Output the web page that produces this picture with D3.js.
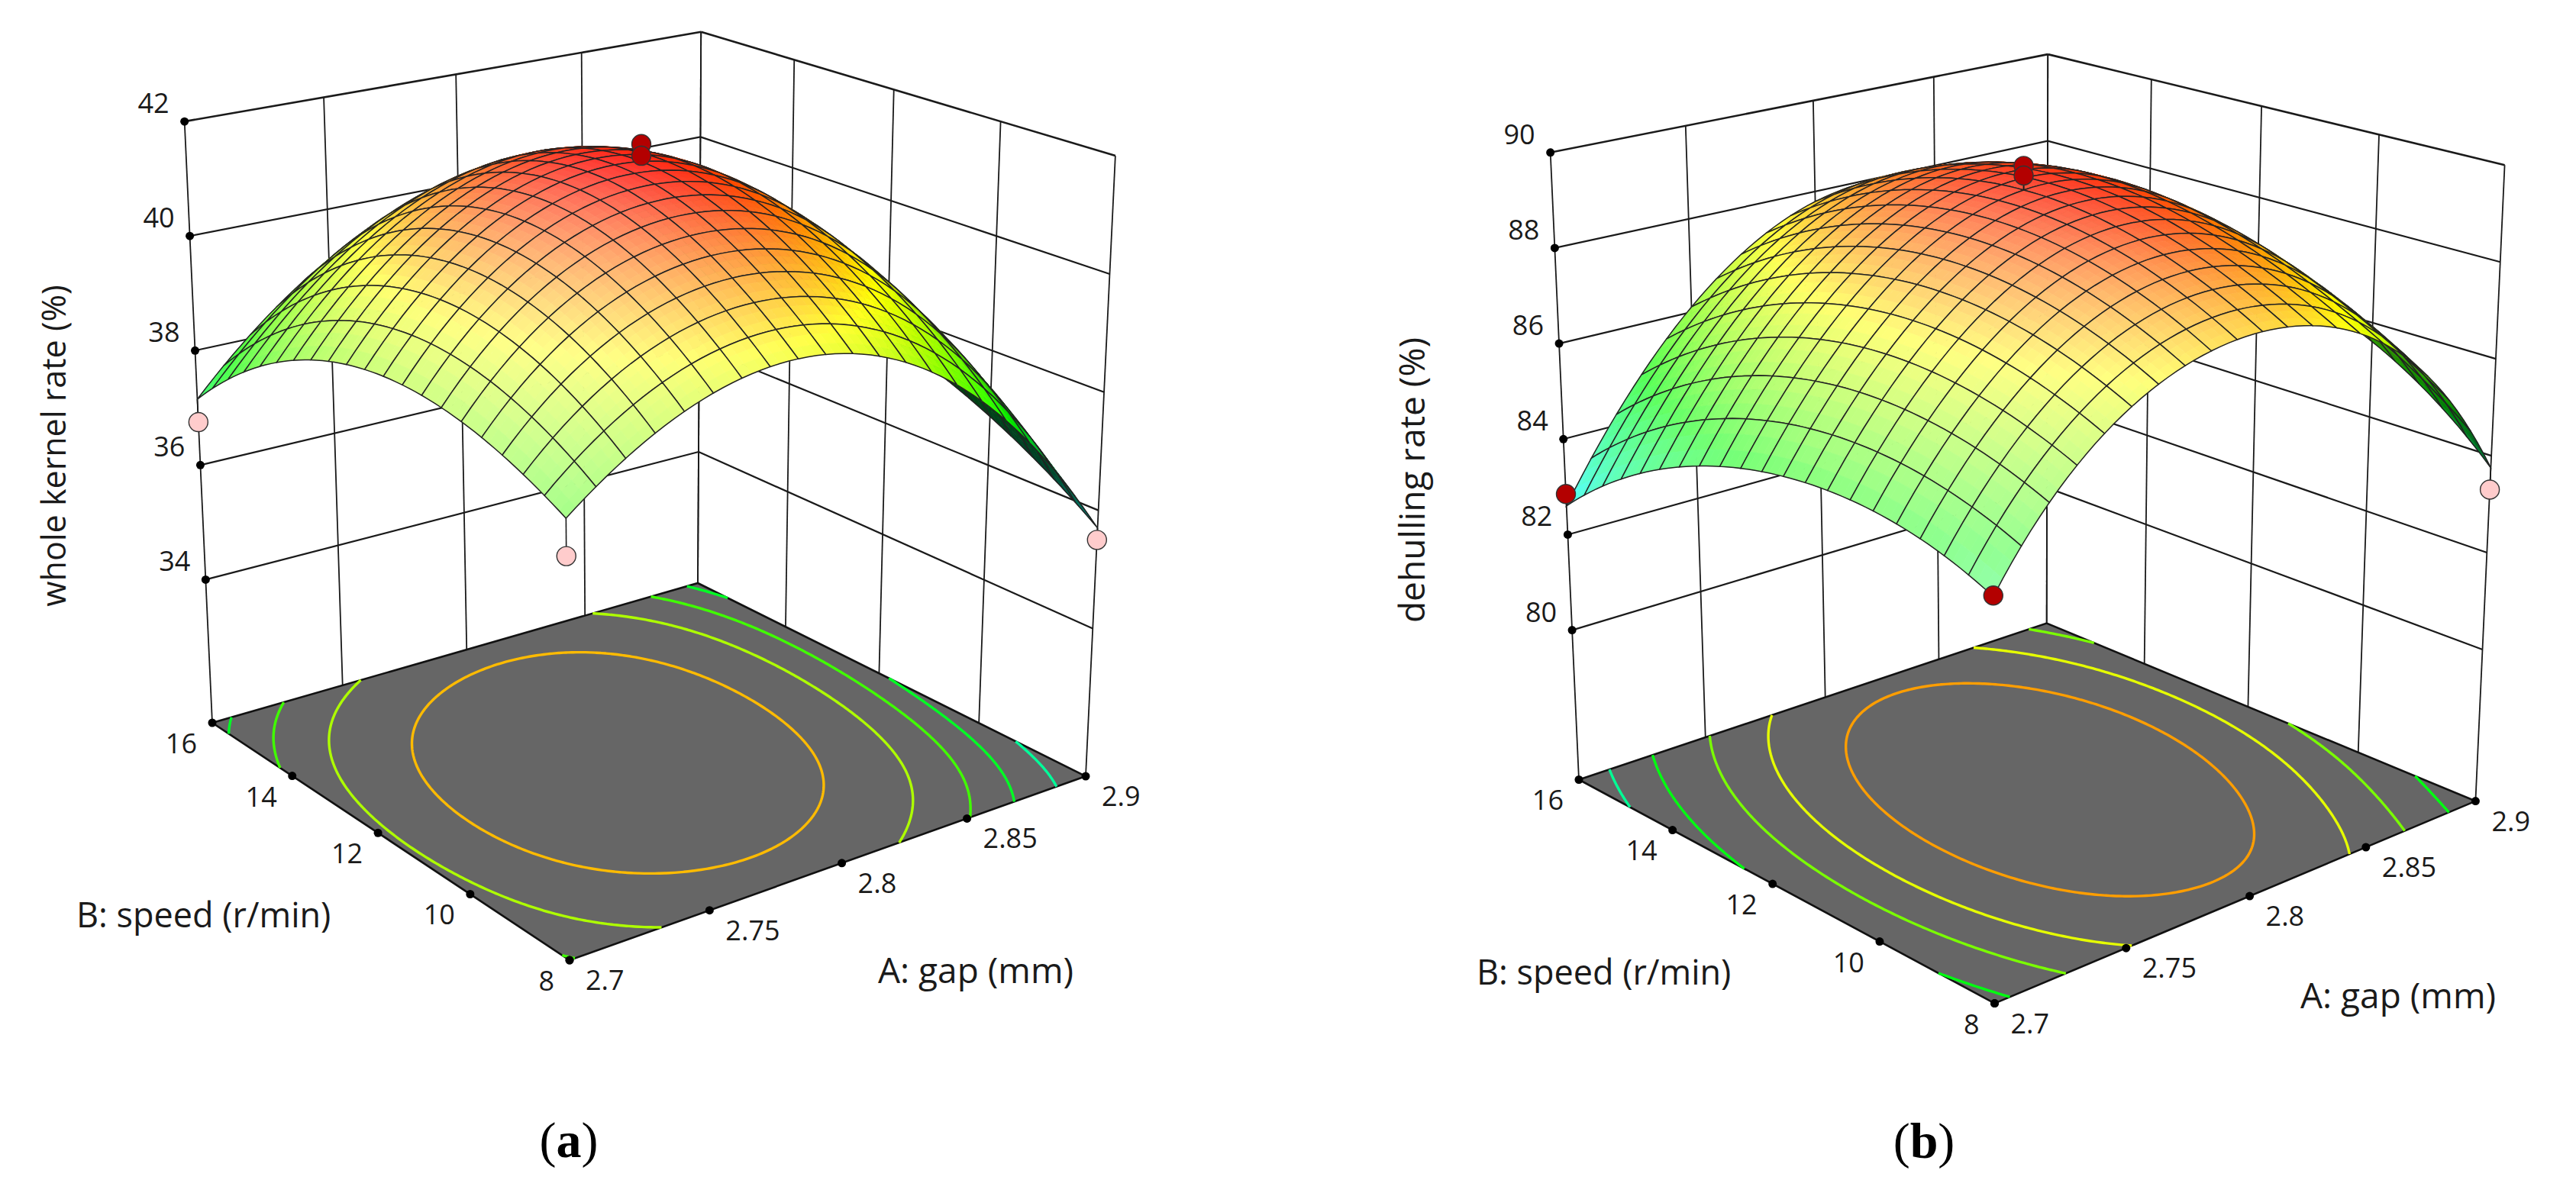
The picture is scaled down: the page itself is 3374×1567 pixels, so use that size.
<!DOCTYPE html>
<html lang="en">

<head>
  <script src="https://cdn.jsdelivr.net/npm/d3@7"></script>
  <style>
    body {
      margin: 0;
      background: #fff;
      overflow: hidden;
    }

    text {
      font-family: "Open Sans", sans-serif;
      fill: #1a1a1a;
    }

    .caption {
      font-family: "Liberation Serif", serif;
      font-size: 66px;
      text-anchor: middle;
      fill: #000;
    }
  </style>
</head>

<body>
  <svg id="chart"></svg>

  <script>
    var aTicks = [2.7, 2.75, 2.8, 2.85, 2.9];
    var bTicks = [8, 10, 12, 14, 16];
    var zTicksLeft = [34, 36, 38, 40, 42];
    var zTicksRight = [80, 82, 84, 86, 88, 90];

    // response at the tick crossings, rows = bTicks, columns = aTicks
    var kernelRate = [
      [38.28, 39.64, 39.72, 38.40, 35.70],
      [39.00, 40.85, 41.09, 39.90, 36.85],
      [39.10, 41.17, 41.60, 40.50, 37.55],
      [38.50, 40.59, 41.21, 40.35, 37.75],
      [37.15, 39.11, 39.92, 39.39, 37.20]
    ];
    var dehullingRate = [
      [84.40, 87.18, 87.92, 87.00, 83.75],
      [85.10, 88.04, 89.01, 88.20, 85.60],
      [85.00, 88.14, 89.35, 88.77, 86.40],
      [84.20, 87.50, 88.94, 88.59, 86.45],
      [82.60, 86.11, 87.78, 87.66, 85.75]
    ];

    var kernelLevels = [40.45, 39.3, 38.35, 37.5, 36.5];
    var dehullingLevels = [88.3, 87.25, 86.2, 84.85, 83.6];

    // colour ramp stops: blue, cyan, green, yellow, red
    var rampColors = ['#0000ff', '#00ffff', '#00ff00', '#ffff00', '#ff0000'];
    var kernelRamp = [33.5, 35.65, 37.8, 40, 41.7];
    var dehullingRamp = [80.2, 82.6, 85, 87.5, 89.6];

    // design points: A, B, response
    var kernelDesign = [[2.8, 12, 41.9], [2.8, 12, 41.7], [2.8, 12, 41.5], [2.7, 16, 36.75], [2.7, 8, 37.7], [2.9, 8, 35.5]];
    var dehullingDesign = [[2.8, 12, 89.85], [2.8, 12, 89.65], [2.7, 16, 82.85], [2.7, 8, 84.42], [2.9, 8, 83.3]];

    var width = 3374, height = 1567;
    var svg = d3.select('#chart').attr('width', width).attr('height', height);

    var nodes = [0, 0.25, 0.5, 0.75, 1];
    var meshCells = 20, subCells = 3;

    function makeCamera(front, right, back, left, topLeft, topBack, topRight) {
      var x0 = front[0], y0 = front[1], x1 = right[0], y1 = right[1];
      var x2 = back[0], y2 = back[1], x3 = left[0], y3 = left[1];
      var dx1 = x1 - x2, dx2 = x3 - x2, sx = x0 - x1 + x2 - x3;
      var dy1 = y1 - y2, dy2 = y3 - y2, sy = y0 - y1 + y2 - y3;
      var det = dx1 * dy2 - dx2 * dy1;
      var g = (sx * dy2 - dx2 * sy) / det, h = (dx1 * sy - sx * dy1) / det;
      var a = x1 - x0 + g * x1, b = x3 - x0 + h * x3, c = x0;
      var d = y1 - y0 + g * y1, e = y3 - y0 + h * y3, f = y0;

      var tops = [[0, 1, topLeft], [1, 1, topBack], [1, 0, topRight]].map(function (r) {
        var w = g * r[0] + h * r[1] + 1;
        return {
          px: r[2][0], py: r[2][1],
          rx: r[2][0] * w - (a * r[0] + b * r[1] + c),
          ry: r[2][1] * w - (d * r[0] + e * r[1] + f)
        };
      });
      var mpx = d3.mean(tops, function (t) { return t.px; });
      var mrx = d3.mean(tops, function (t) { return t.rx; });
      var mpy = d3.mean(tops, function (t) { return t.py; });
      var mry = d3.mean(tops, function (t) { return t.ry; });
      var k = -d3.sum(tops, function (t) { return (t.px - mpx) * (t.rx - mrx); }) /
        d3.sum(tops, function (t) { return (t.px - mpx) * (t.px - mpx); });
      var i = mrx + k * mpx, j = mry + k * mpy;

      // ticks are evenly spaced on the picture, so height runs linear between floor and top
      return function (u, v, t) {
        var w0 = g * u + h * v + 1, w1 = w0 + k;
        var fx = (a * u + b * v + c) / w0, fy = (d * u + e * v + f) / w0;
        var tx = (a * u + b * v + c + i) / w1, ty = (d * u + e * v + f + j) / w1;
        return [fx + (tx - fx) * t, fy + (ty - fy) * t];
      };
    }

    function weights(x) {
      return nodes.map(function (n, k) {
        var w = 1;
        nodes.forEach(function (m, l) { if (l !== k) w *= (x - m) / (n - m); });
        return w;
      });
    }

    // smooth drawing surface through the read table
    function surfaceAt(table, u, v) {
      var wu = weights(u), wv = weights(v), z = 0;
      table.forEach(function (row, r) {
        row.forEach(function (val, c) { z += val * wu[c] * wv[r]; });
      });
      return z;
    }

    function contourLines(table, level) {
      var n = 161;
      var values = [];
      for (var r = 0; r < n; r++) {
        for (var c = 0; c < n; c++) values.push(surfaceAt(table, c / (n - 1), r / (n - 1)));
      }
      var shape = d3.contours().size([n, n]).contour(values, level);
      var lines = [];
      var onEdge = function (p) { return p[0] <= 0 || p[1] <= 0 || p[0] >= n || p[1] >= n; };
      var toUnit = function (p) {
        return [Math.max(0, Math.min(1, (p[0] - 0.5) / (n - 1))), Math.max(0, Math.min(1, (p[1] - 0.5) / (n - 1)))];
      };
      shape.coordinates.forEach(function (poly) {
        poly.forEach(function (ring) {
          var start = ring.findIndex(onEdge);
          if (start < 0) { lines.push(ring.map(toUnit)); return; }
          var cur = [];
          for (var s = 0; s <= ring.length; s++) {
            var p = ring[(start + s) % ring.length];
            if (onEdge(p)) {
              if (cur.length > 1) lines.push(cur);
              cur = [];
            } else {
              cur.push(toUnit(p));
            }
          }
        });
      });
      return lines;
    }

    function drawPanel(opt) {
      var g = svg.append('g');
      var cam = makeCamera(opt.front, opt.right, opt.back, opt.left, opt.topLeft, opt.topBack, opt.topRight);
      var uScale = d3.scaleLinear().domain([aTicks[0], aTicks[4]]).range([0, 1]);
      var vScale = d3.scaleLinear().domain([bTicks[0], bTicks[4]]).range([0, 1]);
      var tScale = d3.scaleLinear().domain([opt.zFloor, opt.zTop]).range([0, 1]);
      var color = d3.scaleLinear().domain(opt.ramp).range(rampColors).clamp(true);
      var line = d3.line();
      var zTop = opt.zTop, zFloor = opt.zFloor;

      function seg(a, b, w) {
        g.append('path').attr('d', line([a, b])).attr('fill', 'none')
          .attr('stroke', '#1a1a1a').attr('stroke-width', w);
      }

      // walls
      aTicks.forEach(function (a) {
        seg(cam(uScale(a), 1, 0), cam(uScale(a), 1, 1), 1.8);
      });
      bTicks.forEach(function (b) {
        seg(cam(1, vScale(b), 0), cam(1, vScale(b), 1), 1.8);
      });
      opt.zTicks.forEach(function (z) {
        var w = z === zTop ? 2.6 : 2.2;
        seg(cam(0, 1, tScale(z)), cam(1, 1, tScale(z)), w);
        seg(cam(1, 1, tScale(z)), cam(1, 0, tScale(z)), w);
      });

      // floor
      g.append('path')
        .attr('d', line([cam(0, 0, 0), cam(1, 0, 0), cam(1, 1, 0), cam(0, 1, 0)]) + 'Z')
        .attr('fill', '#666666').attr('stroke', '#111').attr('stroke-width', 2.6);

      opt.levels.forEach(function (level) {
        contourLines(opt.table, level).forEach(function (l) {
          g.append('path')
            .attr('d', line(l.map(function (p) { return cam(p[0], p[1], 0); })))
            .attr('fill', 'none').attr('stroke', color(level)).attr('stroke-width', 3.4);
        });
      });

      // tick dots and labels
      var dots = [];
      aTicks.forEach(function (a) { dots.push(cam(uScale(a), 0, 0)); });
      bTicks.forEach(function (b) { dots.push(cam(0, vScale(b), 0)); });
      opt.zTicks.forEach(function (z) { dots.push(cam(0, 1, tScale(z))); });
      g.selectAll('circle.tick').data(dots).enter().append('circle')
        .attr('class', 'tick')
        .attr('cx', function (d) { return d[0]; }).attr('cy', function (d) { return d[1]; })
        .attr('r', 5.5).attr('fill', '#000');

      opt.zTicks.forEach(function (z) {
        var p = cam(0, 1, tScale(z));
        g.append('text').text(z).attr('x', p[0] - 20).attr('y', p[1] - 24)
          .attr('dy', '.36em').attr('text-anchor', 'end').attr('font-size', 36);
      });
      aTicks.forEach(function (a) {
        var p = cam(uScale(a), 0, 0);
        g.append('text').text(a).attr('x', p[0] + 21).attr('y', p[1] + 26)
          .attr('dy', '.36em').attr('text-anchor', 'start').attr('font-size', 36);
      });
      bTicks.forEach(function (b) {
        var p = cam(0, vScale(b), 0);
        g.append('text').text(b).attr('x', p[0] - 20).attr('y', p[1] + 27)
          .attr('dy', '.36em').attr('text-anchor', 'end').attr('font-size', 36);
      });

      g.append('text').text('B: speed (r/min)').attr('x', opt.bTitle[0]).attr('y', opt.bTitle[1])
        .attr('dy', '.36em').attr('font-size', 45);
      g.append('text').text('A: gap (mm)').attr('x', opt.aTitle[0]).attr('y', opt.aTitle[1])
        .attr('dy', '.36em').attr('font-size', 46);
      g.append('text').text(opt.zTitle)
        .attr('transform', 'translate(' + opt.zTitlePos[0] + ',' + opt.zTitlePos[1] + ') rotate(-90)')
        .attr('text-anchor', 'middle').attr('dy', '.36em').attr('font-size', opt.zTitleSize);

      // design points under the surface
      var surfZ = function (d) { return surfaceAt(opt.table, uScale(d[0]), vScale(d[1])); };
      var isAbove = function (d) { return d[2] >= surfZ(d); };
      function drawPoints(list, fill) {
        list.forEach(function (d) {
          var pt = cam(uScale(d[0]), vScale(d[1]), tScale(d[2]));
          var sf = cam(uScale(d[0]), vScale(d[1]), tScale(surfZ(d)));
          seg(pt, sf, 1.6);
          g.append('circle').attr('cx', pt[0]).attr('cy', pt[1]).attr('r', 12.5)
            .attr('fill', fill).attr('stroke', '#333').attr('stroke-width', 1.4);
        });
      }
      drawPoints(opt.design.filter(function (d) { return !isAbove(d); }), '#ffcccc');

      // surface, painted back to front from the far corner
      var h = 1 / meshCells, sh = h / subCells;
      var pos = function (u, v) { return cam(u, v, tScale(surfaceAt(opt.table, u, v))); };
      var boxH = (zTop - zFloor) / 2;
      var light = [-0.75, -0.45, 0.5];

      function shade(u, v) {
        var e = 0.01;
        var z = surfaceAt(opt.table, u, v);
        var dzU = (surfaceAt(opt.table, Math.min(1, u + e), v) - surfaceAt(opt.table, Math.max(0, u - e), v)) / (2 * e);
        var dzV = (surfaceAt(opt.table, u, Math.min(1, v + e)) - surfaceAt(opt.table, u, Math.max(0, v - e))) / (2 * e);
        var nx = -dzU / 2 / boxH, ny = -dzV / 2 / boxH, nz = 1;
        var len = Math.sqrt(nx * nx + ny * ny + nz * nz);
        var dot = (nx * light[0] + ny * light[1] + nz * light[2]) / len;
        var base = color(z);
        var pale = Math.max(0, Math.min(1, (dot - 0.25) / 0.75)) * 0.6;
        var dark = Math.max(0, Math.min(1, (0.12 - dot) / 0.3)) * 0.75;
        var c = d3.interpolateRgb(base, '#ffffff')(pale);
        return d3.interpolateRgb(c, '#000000')(dark);
      }

      for (var i = meshCells - 1; i >= 0; i--) {
        for (var j = meshCells - 1; j >= 0; j--) {
          var cell = g.append('g');
          for (var si = subCells - 1; si >= 0; si--) {
            for (var sj = subCells - 1; sj >= 0; sj--) {
              var u0 = i * h + si * sh, v0 = j * h + sj * sh;
              var fill = shade(u0 + sh / 2, v0 + sh / 2);
              cell.append('path')
                .attr('d', line([pos(u0, v0), pos(u0 + sh, v0), pos(u0 + sh, v0 + sh), pos(u0, v0 + sh)]) + 'Z')
                .attr('fill', fill).attr('stroke', fill).attr('stroke-width', 0.8);
            }
          }
          var ring = [];
          var s;
          for (s = 0; s < subCells; s++) ring.push(pos(i * h + s * sh, j * h));
          for (s = 0; s < subCells; s++) ring.push(pos((i + 1) * h, j * h + s * sh));
          for (s = 0; s < subCells; s++) ring.push(pos((i + 1) * h - s * sh, (j + 1) * h));
          for (s = 0; s < subCells; s++) ring.push(pos(i * h, (j + 1) * h - s * sh));
          cell.append('path').attr('d', line(ring) + 'Z').attr('fill', 'none')
            .attr('stroke', '#222').attr('stroke-width', 1.5);
        }
      }

      drawPoints(opt.design.filter(isAbove), '#b30000');

      var cap = g.append('text').attr('class', 'caption').attr('x', opt.caption[0]).attr('y', opt.caption[1]);
      cap.append('tspan').text('(');
      cap.append('tspan').attr('font-weight', 'bold').text(opt.captionLetter);
      cap.append('tspan').text(')');
    }

    drawPanel({
      front: [746, 1258], right: [1422, 1017], back: [914, 764], left: [278, 947],
      topLeft: [241, 159], topBack: [919.6, 42], topRight: [1460, 204],
      zFloor: 31.5, zTop: 42, zTicks: zTicksLeft,
      table: kernelRate, levels: kernelLevels, ramp: kernelRamp, design: kernelDesign,
      zTitle: 'whole kernel rate (%)', zTitlePos: [71, 584], zTitleSize: 43,
      bTitle: [100, 1199], aTitle: [1150, 1271],
      caption: [745, 1516], captionLetter: 'a'
    });

    drawPanel({
      front: [2612.5, 1314.6], right: [3242.4, 1049.6], back: [2680.7, 816.6], left: [2068, 1021.5],
      topLeft: [2030.6, 199.5], topBack: [2682.4, 72.5], topRight: [3280.5, 215],
      zFloor: 76.87, zTop: 90, zTicks: zTicksRight,
      table: dehullingRate, levels: dehullingLevels, ramp: dehullingRamp, design: dehullingDesign,
      zTitle: 'dehulling rate (%)', zTitlePos: [1849, 629], zTitleSize: 46,
      bTitle: [1934, 1274], aTitle: [3013, 1304],
      caption: [2520, 1517], captionLetter: 'b'
    });
  </script>
</body>

</html>
